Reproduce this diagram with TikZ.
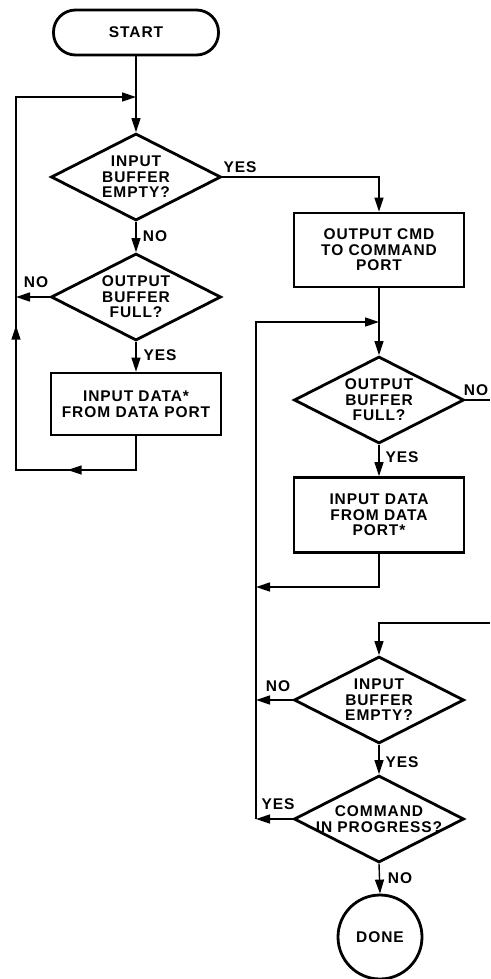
\documentclass[tikz,border=0pt]{standalone}
\usepackage{fontspec}
\setmainfont{Liberation Sans}[LetterSpace=6]
\usetikzlibrary{shapes.geometric,arrows.meta,decorations.markings}
\tikzset{
  >={Triangle[length=14pt,width=9pt]},
  every node/.style={font=\fontsize{15.5}{15.5}\selectfont\bfseries, align=center, inner sep=0pt},
  shapeline/.style={draw, line width=2.8pt},
  boxnode/.style={shapeline, rectangle, minimum width=170pt},
  dianode/.style={shapeline, diamond, minimum width=170pt, minimum height=87pt},
  conn/.style={line width=1.4pt},
  midarrows/.style={postaction={decorate}, decoration={markings, #1}}
}
\begin{document}
\begin{tikzpicture}[x=1pt,y=-1pt]
\useasboundingbox (0,0) rectangle (490,979);

% left column
\node[shapeline, rounded corners=22pt, minimum width=165pt, minimum height=45pt] (start) at (136,32.5) {START};
\node[dianode, label={center:INPUT\\BUFFER\\EMPTY?}] (d1) at (136,177) {};
\node[dianode, label={center:OUTPUT\\BUFFER\\FULL?}] (d2) at (136,297) {};
\node[boxnode, minimum height=62pt] (b1) at (136,404) {INPUT DATA*\\FROM DATA PORT};

% right column
\node[boxnode, minimum height=74pt] (b2) at (379,250) {OUTPUT CMD\\TO COMMAND\\PORT};
\node[dianode, label={center:OUTPUT\\BUFFER\\FULL?}] (d3) at (379,400) {};
\node[boxnode, minimum height=75pt] (b3) at (379,515) {INPUT DATA\\FROM DATA\\PORT*};
\node[dianode, label={center:INPUT\\BUFFER\\EMPTY?}] (d4) at (379,700) {};
\node[dianode, label={center:COMMAND\\IN PROGRESS?}] (d5) at (379,819) {};
\node[shapeline, circle, minimum size=84pt] (done) at (380,937) {DONE};

% coordinates
\coordinate (m1) at (136,97);
\coordinate (l1t) at (16,97);
\coordinate (l1b) at (16,470);
\coordinate (b1b) at (136,470);
\coordinate (l1m) at (16,297);
\coordinate (m2) at (379,322);
\coordinate (l2t) at (256,322);
\coordinate (l2b) at (256,819);
\coordinate (l2a) at (256,587);
\coordinate (l2n) at (256,700);
\coordinate (r3) at (490,400);
\coordinate (r4) at (490,623);

% connectors left
\draw[conn,->] (start.south) -- (d1.north);
\draw[conn,->, midarrows={mark=at position 102pt with {\arrow{>}}, mark=at position 298pt with {\arrow{>}}}]
  (b1.south) -- (b1b) -- (l1b) -- (l1t) -- (m1);
\draw[conn,->] (d1.south) -- (d2.north);
\draw[conn,->] (d2.west) -- (l1m);
\draw[conn,->] (d2.south) -- (b1.north);
\draw[conn,->] (d1.east) -| (b2.north);

% connectors right
\draw[conn,->] (b2.south) -- (d3.north);
\draw[conn] (d3.east) -- (r3);
\draw[conn,->] (d3.south) -- (b3.north);
\draw[conn,->] (b3.south) |- (l2a);
\draw[conn,->] (l2b) -- (l2t) -- (m2);
\draw[conn,->] (r4) -| (d4.north);
\draw[conn,->] (d4.west) -- (l2n);
\draw[conn,->] (d4.south) -- (d5.north);
\draw[conn,->] (d5.west) -- (l2b);
\draw[conn,->] (d5.south) -- (done.north);

% labels
\node (y1) at (240,167) {YES};
\node (n1) at (155,236) {NO};
\node (n2) at (36,282) {NO};
\node (y2) at (160,355) {YES};
\node (n3) at (476,390) {NO};
\node (y3) at (402,457) {YES};
\node (n4) at (278,686.5) {NO};
\node (y4) at (402,762) {YES};
\node (y5) at (278,804.5) {YES};
\node (n5) at (400,878) {NO};
\end{tikzpicture}
\end{document}
